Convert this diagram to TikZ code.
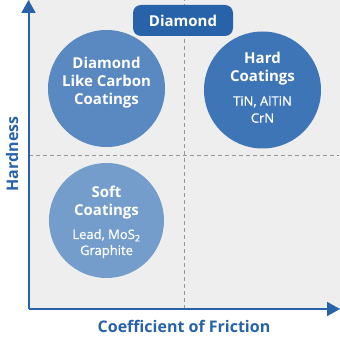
\documentclass[tikz,border=0pt]{standalone}
\usepackage{fontspec}
\setmainfont{Open Sans}
\newfontfamily\subfont[FakeBold=0.8]{Open Sans}
\usetikzlibrary{arrows.meta}
\definecolor{axisblue}{RGB}{40,99,170}
\definecolor{dlcblue}{RGB}{90,136,192}
\definecolor{hardblue}{RGB}{62,117,182}
\definecolor{softblue}{RGB}{116,157,204}
\definecolor{panelgray}{RGB}{238,238,238}
\definecolor{edgegray}{RGB}{200,200,200}
\definecolor{dashgray}{RGB}{150,150,150}
\begin{document}
\begin{tikzpicture}[x=1pt,y=1pt,
  bubble/.style={circle, inner sep=0pt, minimum size=117pt, draw=none},
  head/.style={text=white, align=center, inner sep=0pt, font=\bfseries\fontsize{15}{18}\selectfont},
  subtext/.style={text=white, align=center, inner sep=0pt, font=\subfont\fontsize{13}{17}\selectfont},
  axislabel/.style={text=axisblue, font=\bfseries\fontsize{16}{19}\selectfont},
  axisline/.style={draw=axisblue, line width=2pt, -{Triangle[length=13pt,width=14pt]}},
  grid/.style={draw=dashgray, line width=0.9pt, dash pattern=on 4pt off 3pt}
]
\useasboundingbox (0,0) rectangle (340,340);
% panel
\node[fill=panelgray, draw=edgegray, line width=0.8pt, minimum width=311pt, minimum height=309pt, inner sep=0pt, anchor=south west] (panel) at (28.5,31) {};
% dashed quadrant lines
\coordinate (hl) at (28.5,185);
\coordinate (hr) at (339,185);
\coordinate (vb) at (184,31);
\coordinate (vt) at (184,339.5);
\draw[grid] (hl) -- (hr);
\draw[grid] (vb) -- (vt);
% axes
\coordinate (O) at (28.5,31);
\coordinate (ytop) at (28.5,340);
\coordinate (xend) at (340,31);
\draw[axisline] (O) -- (ytop);
\draw[axisline] (O) -- (xend);
% bubbles
\node[bubble, fill=dlcblue] (dlc) at (106.5,251.5) {};
\node[bubble, fill=hardblue] (hard) at (262.5,250) {};
\node[bubble, fill=softblue, minimum size=115pt] (soft) at (106.5,119.5) {};
\node[head, anchor=base] (dlct) at (106.5,235) {Diamond\\Like Carbon\\Coatings};
\node[head, anchor=base] (hardt) at (262.5,258.3) {Hard\\Coatings};
\node[subtext, anchor=base] (hards) at (262.5,217.3) {TiN, AlTiN\\CrN};
\node[head, anchor=base] (softt) at (106.5,124.3) {Soft\\Coatings};
\node[subtext, anchor=base, font=\subfont\fontsize{13}{16}\selectfont] (softs) at (106.5,85) {Lead, MoS\textsubscript{2}\\Graphite};
% diamond tag
\node[fill=axisblue, rounded corners=8pt, minimum width=100pt, minimum height=31pt, inner sep=0pt, text=white, font=\bfseries\fontsize{15}{18}\selectfont] (diamond) at (183,319.5) {Diamond};
% axis labels
\node[axislabel, rotate=90, anchor=base] (hardness) at (18,186) {Hardness};
\node[axislabel, anchor=base] (cof) at (184,8) {Coefficient of Friction};
\end{tikzpicture}
\end{document}
